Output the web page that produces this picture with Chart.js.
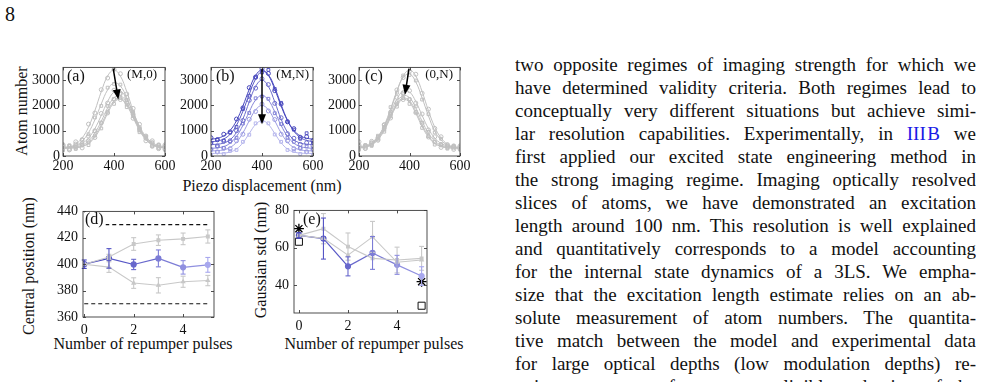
<!DOCTYPE html>
<html>
<head>
<meta charset="utf-8">
<script src="https://cdn.jsdelivr.net/npm/chart.js@4.4.1/dist/chart.umd.min.js"></script>
<style>
body { margin: 0; width: 999px; height: 382px; overflow: hidden; background: #fff; position: relative; font-family: "Liberation Serif", "Times New Roman", "DejaVu Serif", serif; color: #111; }
canvas { position: absolute; }
.lab { position: absolute; white-space: nowrap; font-size: 16px; transform: translate(-50%, -50%); }
.rot { transform: translate(-50%, -50%) rotate(-90deg); }
#page { position: absolute; left: 5px; top: 3px; font-size: 20px; }
#text { position: absolute; left: 515px; top: 53px; width: 461px; font-size: 19px; line-height: 23px; }
#text div { text-align: justify; text-align-last: justify; height: 23px; overflow: hidden; }
.ref { color: #1a1ae6; }
</style>
</head>
<body>
<div id="page">8</div>

<div class="lab rot" style="left:22px;top:111px">Atom number</div>
<div class="lab" style="left:262px;top:186px">Piezo displacement (nm)</div>
<div class="lab rot" style="left:29px;top:266px">Central position (nm)</div>
<div class="lab" style="left:143px;top:344px">Number of repumper pulses</div>
<div class="lab rot" style="left:261px;top:260px">Gaussian std (nm)</div>
<div class="lab" style="left:374px;top:344px">Number of repumper pulses</div>

<div id="text">
<div>two opposite regimes of imaging strength for which we</div>
<div>have determined validity criteria. Both regimes lead to</div>
<div>conceptually very different situations but achieve simi-</div>
<div>lar resolution capabilities. Experimentally, in <span class="ref">III&#8202;B</span> we</div>
<div>first applied our excited state engineering method in</div>
<div>the strong imaging regime. Imaging optically resolved</div>
<div>slices of atoms, we have demonstrated an excitation</div>
<div>length around 100 nm. This resolution is well explained</div>
<div>and quantitatively corresponds to a model accounting</div>
<div>for the internal state dynamics of a 3LS. We empha-</div>
<div>size that the excitation length estimate relies on an ab-</div>
<div>solute measurement of atom numbers. The quantita-</div>
<div>tive match between the model and experimental data</div>
<div>for large optical depths (low modulation depths) re-</div>
<div>quires to account for a non-negligible reduction of the</div>
</div>

<script>
// piezo positions (nm) where fits and data are sampled
var xGrid = [200, 225, 250, 275, 300, 325, 350, 375, 400, 425, 450, 475, 500, 525, 550, 575, 600];
var piezoTicks = [200, 400, 600];
var atomTicks = [0, 1000, 2000, 3000];

// (a) repumper (M,0) : fits and measured points
var fitA = [
  [320, 360, 470, 710, 1140, 1790, 2540, 3160, 3400, 3160, 2540, 1790, 1140, 710, 470, 360, 320],
  [311, 338, 414, 589, 919, 1431, 2055, 2614, 2892, 2767, 2299, 1675, 1103, 700, 469, 361, 318],
  [354, 365, 401, 498, 708, 1081, 1601, 2152, 2530, 2569, 2249, 1716, 1176, 769, 529, 414, 369],
  [332, 338, 361, 429, 591, 903, 1371, 1903, 2303, 2385, 2108, 1607, 1092, 707, 485, 383, 345],
  [301, 306, 323, 379, 518, 798, 1240, 1764, 2180, 2292, 2042, 1556, 1046, 666, 448, 350, 314],
  [321, 323, 335, 377, 492, 741, 1160, 1681, 2115, 2244, 2000, 1513, 1007, 642, 443, 358, 330]
];
var dotA = [
  [420, 250, 560, 640, 1260, 1700, 2620, 3080, 3420, 3250, 2450, 1880, 1060, 790, 390, 430, 260],
  [230, 410, 350, 650, 860, 1520, 1980, 2700, 2850, 2820, 2210, 1750, 1010, 760, 540, 300, 380],
  [450, 300, 470, 430, 780, 1000, 1680, 2090, 2600, 2480, 2320, 1640, 1250, 700, 600, 350, 440],
  [260, 420, 300, 500, 530, 980, 1300, 1980, 2250, 2450, 2030, 1690, 1020, 780, 420, 450, 280],
  [380, 240, 400, 320, 590, 730, 1310, 1700, 2240, 2230, 2110, 1490, 1120, 600, 510, 290, 390],
  [250, 390, 280, 440, 430, 810, 1090, 1750, 2060, 2300, 1930, 1580, 940, 710, 380, 420, 250]
];

// (b) (M,N)
var fitB = [
  [665, 701, 797, 1010, 1398, 1973, 2636, 3186, 3400, 3186, 2636, 1973, 1398, 1010, 797, 701, 665],
  [562, 591, 673, 861, 1216, 1768, 2440, 3042, 3342, 3207, 2703, 2031, 1415, 981, 732, 615, 570],
  [453, 466, 512, 643, 937, 1457, 2138, 2750, 3000, 2750, 2138, 1457, 937, 643, 512, 466, 453],
  [305, 322, 374, 505, 775, 1209, 1749, 2213, 2400, 2213, 1749, 1209, 775, 505, 374, 322, 305],
  [202, 211, 244, 336, 544, 911, 1392, 1824, 2000, 1824, 1392, 911, 544, 336, 244, 211, 202],
  [100, 103, 114, 157, 276, 522, 888, 1247, 1400, 1247, 888, 522, 276, 157, 114, 103, 100]
];
var dotB = [
  [720, 640, 860, 950, 1460, 1900, 2700, 3120, 3450, 3260, 2580, 2050, 1350, 1080, 740, 760, 610],
  [500, 650, 610, 920, 1150, 1850, 2380, 3100, 3300, 3400, 2650, 2100, 1360, 1040, 680, 900, 520],
  [520, 400, 580, 600, 1000, 1400, 2200, 2680, 3050, 2820, 2080, 1510, 880, 700, 460, 520, 400],
  [250, 380, 320, 560, 720, 1280, 1700, 2280, 2350, 2260, 1690, 1260, 720, 560, 320, 380, 260],
  [260, 160, 300, 290, 600, 860, 1450, 1760, 2050, 1780, 1440, 860, 600, 290, 300, 170, 250],
  [50, 160, 80, 200, 240, 560, 840, 1290, 1380, 1290, 850, 560, 240, 200, 80, 150, 60]
];

// (c) (0,N)
var fitC = [
  [320, 360, 470, 710, 1140, 1790, 2540, 3160, 3400, 3160, 2540, 1790, 1140, 710, 470, 360, 320],
  [320, 369, 492, 754, 1211, 1861, 2570, 3101, 3243, 2926, 2292, 1584, 983, 628, 429, 343, 312],
  [369, 414, 529, 769, 1176, 1716, 2249, 2569, 2530, 2152, 1601, 1081, 708, 498, 401, 365, 354],
  [345, 383, 485, 707, 1092, 1607, 2108, 2385, 2303, 1903, 1371, 903, 591, 429, 361, 338, 332],
  [314, 350, 448, 666, 1046, 1556, 2042, 2292, 2180, 1764, 1240, 798, 518, 379, 323, 306, 301],
  [330, 358, 443, 642, 1007, 1513, 2000, 2244, 2115, 1681, 1160, 741, 492, 377, 335, 323, 321]
];
var dotC = [
  [560, 300, 520, 660, 1220, 1730, 2610, 3100, 3350, 3230, 2480, 1850, 1090, 760, 420, 400, 270],
  [250, 420, 440, 800, 1150, 1930, 2500, 3180, 3200, 2980, 2230, 1650, 930, 680, 380, 390, 260],
  [430, 360, 580, 720, 1240, 1650, 2310, 2500, 2580, 2090, 1660, 1030, 760, 450, 450, 320, 400],
  [300, 430, 440, 760, 1040, 1680, 2050, 2440, 2250, 1960, 1320, 950, 550, 470, 320, 380, 290],
  [380, 300, 500, 620, 1100, 1500, 2100, 2230, 2230, 1710, 1290, 750, 560, 340, 370, 260, 350],
  [280, 410, 400, 690, 960, 1570, 1950, 2300, 2060, 1740, 1110, 790, 450, 420, 290, 370, 280]
];

// arrows [x0, y0, x1, y1] in data units
var arrowA = [397, 3450, 417, 2230];
var arrowB = [400, 3450, 400, 1250];
var arrowC = [398, 3450, 382, 2420];

// (d) central position and (e) gaussian std vs number of pulses
var pulses = [0, 1, 2, 3, 4, 5];
var pulseTicks = [0, 2, 4];
var posTicks = [360, 380, 400, 420, 440];
var stdTicks = [40, 60, 80];
var posBlue = [400, 404.4, 399.8, 404.4, 397.6, 399.5];
var posBlueErr = [3.2, 7.4, 3.9, 6.4, 5.1, 5.6];
var posUp = [400, 405.5, 415.3, 418.2, 419.2, 421];
var posUpErr = [0, 2, 4.8, 4, 4.4, 5];
var posLo = [400, 397.8, 385.7, 384, 386.7, 387.6];
var posLoErr = [0, 4, 4, 5.8, 4.2, 3.9];
var boundX = [0, 5];
var boundHi = [430, 430];
var boundLo = [370, 370];

var stdBlue = [66.6, 64.9, 50, 57.2, 50.8, 44.8];
var stdBlueErr = [1.5, 11, 5.1, 8.8, 5.1, 5];
var stdGray1 = [66.6, 70.2, 60.6, 54.3, 53.4, 54.3];
var stdGray1Err = [0, 8.1, 7.3, 0, 6.9, 6.4];
var stdGray2 = [66.6, 65, 56, 65.8, 52.2, 53.4];
var stdGray2Err = [0, 0, 0, 8.3, 0, 0];
var starX = [0, 5];
var starY = [70.2, 41.8];
var squareX = [0, 5];
var squareY = [63.2, 28.9];

var gray = '#c0c0c0';
var grays = [gray, gray, gray, gray, gray, gray];
var blues = ['#4646bc', '#5858c4', '#6c6ccc', '#8484d8', '#9c9ce2', '#b6b6ec'];
var dotBlues = ['#4646c0', '#5656c6', '#6868cc', '#7c7cd6', '#9090e0', '#a8a8ee'];
var serif = '"Liberation Serif", "Times New Roman", "DejaVu Serif", serif';

function pts(xs, ys) {
  return ys.map(function (v, i) { return { x: xs[i], y: v }; });
}

function line(ctx, a, b, c, d) {
  ctx.beginPath(); ctx.moveTo(a, b); ctx.lineTo(c, d); ctx.stroke();
}

var frame = {
  id: 'frame',
  afterDatasetsDraw: function (chart, args, o) {
    var ctx = chart.ctx, a = chart.chartArea, x = chart.scales.x, y = chart.scales.y;
    ctx.save();
    // error bars
    chart.data.datasets.forEach(function (ds) {
      if (!ds.err) return;
      ds.data.forEach(function (p, j) {
        var e = ds.err[j];
        if (!e) return;
        var px = x.getPixelForValue(p.x), t = y.getPixelForValue(p.y + e), b = y.getPixelForValue(p.y - e);
        ctx.strokeStyle = ds.barColors ? ds.barColors[j] : ds.borderColor;
        ctx.lineWidth = 1.1;
        line(ctx, px, t, px, b);
        line(ctx, px - 2.5, t, px + 2.5, t);
        line(ctx, px - 2.5, b, px + 2.5, b);
      });
    });
    // box and inward ticks
    ctx.strokeStyle = '#3a3a3a';
    ctx.lineWidth = 0.9;
    ctx.strokeRect(a.left, a.top, a.right - a.left, a.bottom - a.top);
    o.xt.forEach(function (v) {
      var px = Math.round(x.getPixelForValue(v)) + 0.5;
      line(ctx, px, a.bottom, px, a.bottom - 3);
      line(ctx, px, a.top, px, a.top + 3);
    });
    o.yt.forEach(function (v) {
      var py = Math.round(y.getPixelForValue(v)) + 0.5;
      line(ctx, a.left, py, a.left + 3, py);
      line(ctx, a.right, py, a.right - 3, py);
    });
    // arrow
    if (o.arrow) {
      var ax = x.getPixelForValue(o.arrow[0]), ay = y.getPixelForValue(o.arrow[1]);
      var bx = x.getPixelForValue(o.arrow[2]), by = y.getPixelForValue(o.arrow[3]);
      var ang = Math.atan2(by - ay, bx - ax), c = Math.cos(ang), s = Math.sin(ang);
      ctx.strokeStyle = '#000'; ctx.fillStyle = '#000'; ctx.lineWidth = 1.5;
      line(ctx, ax, ay, bx - 7 * c, by - 7 * s);
      ctx.beginPath();
      ctx.moveTo(bx, by);
      ctx.lineTo(bx - 10 * c + 4 * s, by - 10 * s - 4 * c);
      ctx.lineTo(bx - 10 * c - 4 * s, by - 10 * s + 4 * c);
      ctx.closePath(); ctx.fill();
    }
    // panel letter
    ctx.font = '16px ' + serif;
    ctx.textBaseline = 'middle';
    ctx.textAlign = 'left';
    var w = ctx.measureText(o.letter).width;
    if (o.letterBg) { ctx.fillStyle = '#fff'; ctx.fillRect(a.left + o.lx - 1, a.top + 1, w + 3, 16); }
    ctx.fillStyle = '#111';
    ctx.fillText(o.letter, a.left + o.lx, a.top + o.ly);
    if (o.tag) {
      ctx.font = '13px ' + serif;
      ctx.textAlign = 'right';
      ctx.fillText(o.tag, a.right - o.tx, a.top + 7);
    }
    ctx.restore();
  }
};

function axis(min, max, ticks, pad) {
  return {
    type: 'linear', min: min, max: max,
    grid: { display: false, drawTicks: false }, border: { display: false },
    afterBuildTicks: function (s) { s.ticks = ticks.map(function (v) { return { value: v }; }); },
    ticks: {
      padding: pad, color: '#111', autoSkip: false, maxRotation: 0,
      font: { family: serif, size: 14 },
      callback: function (v) { return String(v); }
    }
  };
}

// area: left, top, right, bottom of the plot box in page pixels
function panel(area, datasets, sx, sy, fig) {
  var yw = 48, pt = 10, pr = 16, xh = 26;
  var cv = document.createElement('canvas');
  cv.width = yw + (area[2] - area[0]) + pr;
  cv.height = pt + (area[3] - area[1]) + xh;
  cv.style.left = (area[0] - yw) + 'px';
  cv.style.top = (area[1] - pt) + 'px';
  document.body.appendChild(cv);
  sx.afterFit = function (s) { s.height = xh; };
  sy.afterFit = function (s) { s.width = yw; };
  return new Chart(cv.getContext('2d'), {
    type: 'line',
    data: { datasets: datasets },
    options: {
      responsive: false, animation: false, devicePixelRatio: 1,
      layout: { padding: { left: 0, top: pt, right: pr, bottom: 0 } },
      scales: { x: sx, y: sy },
      plugins: { legend: { display: false }, tooltip: { enabled: false }, frame: fig }
    },
    plugins: [frame]
  });
}

function curveSets(fits, dots, cols) {
  var sets = [];
  fits.forEach(function (f, i) {
    sets.push({ data: pts(xGrid, f), borderColor: cols[i], borderWidth: 1, pointRadius: 0, tension: 0.4 });
  });
  dots.forEach(function (d, i) {
    sets.push({
      data: pts(xGrid, d), showLine: false, pointStyle: i % 2 ? 'rect' : 'circle',
      pointRadius: 2, pointBorderWidth: 1, pointBorderColor: cols[i], pointBackgroundColor: 'rgba(255,255,255,0)'
    });
  });
  return sets;
}

panel([63, 66, 165, 156], curveSets(fitA, dotA, grays),
  axis(200, 600, piezoTicks, 2), axis(0, 3500, atomTicks, 3),
  { xt: piezoTicks, yt: atomTicks, arrow: arrowA, letter: '(a)', lx: 4, ly: 9, tag: '(M,0)', tx: 8 });
panel([211, 66, 313, 156], curveSets(fitB, dotB, blues),
  axis(200, 600, piezoTicks, 2), axis(0, 3500, atomTicks, 3),
  { xt: piezoTicks, yt: atomTicks, arrow: arrowB, letter: '(b)', lx: 5, ly: 9, tag: '(M,N)', tx: 4 });
panel([359, 66, 460, 156], curveSets(fitC, dotC, grays),
  axis(200, 600, piezoTicks, 2), axis(0, 3500, atomTicks, 3),
  { xt: piezoTicks, yt: atomTicks, arrow: arrowC, letter: '(c)', lx: 6, ly: 9, tag: '(0,N)', tx: 7 });

function errSet(ys, err, col, style) {
  return {
    data: pts(pulses, ys), err: err, borderColor: col, borderWidth: 1.1,
    pointStyle: style, pointRadius: 2, pointBackgroundColor: col, pointBorderColor: col, tension: 0
  };
}
function blueSet(ys, err) {
  return {
    data: pts(pulses, ys), err: err, barColors: dotBlues, borderColor: dotBlues[0], borderWidth: 1.2,
    segment: { borderColor: function (c) { return dotBlues[c.p0DataIndex]; } },
    pointRadius: 2.5, pointBackgroundColor: dotBlues, pointBorderColor: dotBlues, tension: 0
  };
}

panel([83, 208, 214, 317], [
    { data: pts(boundX, boundHi), borderColor: '#111', borderWidth: 1.1, borderDash: [4, 3], pointRadius: 0 },
    { data: pts(boundX, boundLo), borderColor: '#111', borderWidth: 1.1, borderDash: [4, 3], pointRadius: 0 },
    errSet(posUp, posUpErr, '#c8c8c8', 'rect'),
    errSet(posLo, posLoErr, '#c8c8c8', 'triangle'),
    blueSet(posBlue, posBlueErr)
  ],
  axis(-0.05, 5.25, pulseTicks, 5), axis(360, 440, posTicks, 5),
  { xt: pulseTicks, yt: posTicks, letter: '(d)', lx: 2, ly: 8, letterBg: true });

panel([294, 207, 427, 313], [
    errSet(stdGray1, stdGray1Err, '#c8c8c8', 'rect'),
    errSet(stdGray2, stdGray2Err, '#c8c8c8', 'triangle'),
    blueSet(stdBlue, stdBlueErr),
    { data: pts(starX, starY), showLine: false, pointStyle: 'star', pointRadius: 5, pointBorderWidth: 1.3, pointBorderColor: '#000' },
    { data: pts(squareX, squareY), showLine: false, pointStyle: 'rect', pointRadius: 5, pointBorderWidth: 1, pointBorderColor: '#111', pointBackgroundColor: '#fff', clip: false }
  ],
  axis(-0.2, 5.22, pulseTicks, 5), axis(25, 80, stdTicks, 5),
  { xt: pulseTicks, yt: stdTicks, letter: '(e)', lx: 9, ly: 9 });
</script>
</body>
</html>
